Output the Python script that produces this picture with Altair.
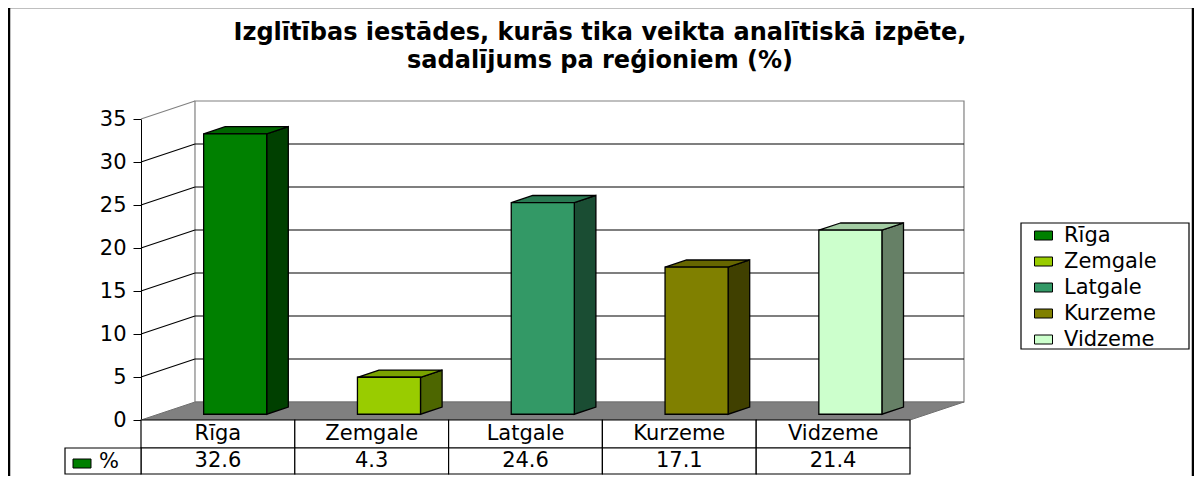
import altair as alt
import pandas as pd

# ---- data ----
regions = ["Rīga", "Zemgale", "Latgale", "Kurzeme", "Vidzeme"]
values = [32.6, 4.3, 24.6, 17.1, 21.4]
front_colors = ["#008000", "#99CC00", "#339966", "#808000", "#CCFFCC"]
side_colors = ["#004000", "#4D6600", "#1A4D33", "#404000", "#668066"]
top_colors = ["#006600", "#7AA300", "#297A52", "#666600", "#A3CCA3"]
ticks = [0, 5, 10, 15, 20, 25, 30, 35]
title_lines = ["Izglītības iestādes, kurās tika veikta analītiskā izpēte,",
               "sadalījums pa reģioniem (%)"]
series_label = "%"

FONT = "DejaVu Sans"
FS = 21
TFS = 24

# ---- 3D geometry (in data units) ----
DX, DY = 0.351, 2.093      # full depth offset
D0, D1 = 0.32, 0.72        # bar front / back depth
HW = 0.205                 # bar half width
YMAX = ticks[-1]
XMIN, XMAX = -0.5, len(regions) - 0.5

xscale = alt.Scale(domain=[XMIN, XMAX], nice=False, zero=False)
yscale = alt.Scale(domain=[0, YMAX], nice=False, zero=False)
yaxis = alt.Axis(values=ticks, title=None, grid=False, tickSize=8, labelPadding=7,
                 labelFont=FONT, labelFontSize=FS, labelColor="black",
                 domainColor="black", tickColor="black", domainWidth=1, tickWidth=1)


def X(f):
    return alt.X(f, type="quantitative", scale=xscale, axis=None)


def Y(f):
    return alt.Y(f, type="quantitative", scale=yscale, axis=yaxis)


bars = pd.DataFrame({"region": regions, "value": values, "i": range(len(regions)),
                     "front": front_colors})
bars["fx1"] = bars.i - HW + D0 * DX
bars["fx2"] = bars.i + HW + D0 * DX
bars["fy1"] = D0 * DY
bars["fy2"] = bars.value + D0 * DY
bars["cl"] = bars.i - 0.5
bars["cr"] = bars.i + 0.5

side_rows, top_rows = [], []
for k, (r, v) in enumerate(zip(regions, values)):
    for d in (D0, D1):
        side_rows.append({"region": r, "c": side_colors[k], "sx": k + HW + d * DX,
                          "st": v + d * DY, "sb": d * DY})
        top_rows.append({"region": r, "c": top_colors[k], "ty": v + d * DY,
                         "tl": k - HW + d * DX, "tr": k + HW + d * DX})
side = pd.DataFrame(side_rows)
top = pd.DataFrame(top_rows)

wall = pd.DataFrame({"x1": [XMIN + DX], "x2": [XMAX + DX], "y1": [DY], "y2": [YMAX + DY]})
floor = pd.DataFrame({"y": [0, DY], "xl": [XMIN, XMIN + DX], "xr": [XMAX, XMAX + DX]})
grid = pd.DataFrame({"v": ticks[1:-1]})
grid["yb"] = grid.v + DY
grid["x1"] = XMIN + DX
grid["x2"] = XMAX + DX
diag = pd.DataFrame({"v": ticks[1:]})
diag["yb"] = diag.v + DY
diag["x1"] = XMIN
diag["x2"] = XMIN + DX
diag["c"] = ["black"] * (len(ticks) - 2) + ["#808080"]
one = pd.DataFrame({"a": [0]})

wall_l = alt.Chart(wall).mark_rect(fill="white", stroke="#808080", strokeWidth=1.2).encode(
    x=X("x1"), x2="x2", y=Y("y1"), y2="y2")
grid_l = alt.Chart(grid).mark_rule(color="black", strokeWidth=1.1).encode(
    x=X("x1"), x2="x2", y=Y("yb"))
diag_l = alt.Chart(diag).mark_rule(strokeWidth=1.1).encode(
    x=X("x1"), x2="x2", y=Y("v"), y2="yb", color=alt.Color("c:N", scale=None))
floor_l = alt.Chart(floor).mark_area(orient="horizontal", fill="#808080", stroke="#707070",
                                     strokeWidth=1, opacity=1).encode(
    y=Y("y"), x=X("xl"), x2="xr")

side_l = alt.Chart(side).mark_area(orient="vertical", stroke="black", strokeWidth=1.3,
                                   opacity=1).encode(
    x=X("sx"), y=Y("st"), y2="sb", detail="region:N", fill=alt.Fill("c:N", scale=None))
top_l = alt.Chart(top).mark_area(orient="horizontal", stroke="black", strokeWidth=1.3,
                                 opacity=1).encode(
    y=Y("ty"), x=X("tl"), x2="tr", detail="region:N", fill=alt.Fill("c:N", scale=None))
front_l = alt.Chart(bars).mark_rect(stroke="black", strokeWidth=1.3, opacity=1).encode(
    x=X("fx1"), x2="fx2", y=Y("fy1"), y2="fy2",
    color=alt.Color("region:N", scale=alt.Scale(domain=regions, range=front_colors),
                    legend=alt.Legend(title=None, orient="none", legendX=892, legendY=106,
                                      symbolType="M-1,-0.5L1,-0.5L1,0.5L-1,0.5Z",
                                      symbolSize=324, symbolStrokeColor="black",
                                      symbolStrokeWidth=1, symbolOpacity=1,
                                      labelFont=FONT, labelFontSize=FS, labelColor="black",
                                      labelOffset=10, rowPadding=4, padding=0)))

# data table under the plot
row1 = alt.Chart(bars).mark_rect(fill="white", stroke="black", strokeWidth=1.2).encode(
    x=X("cl"), x2="cr", y=alt.value(301), y2=alt.value(329))
row2 = alt.Chart(bars).mark_rect(fill="white", stroke="black", strokeWidth=1.2).encode(
    x=X("cl"), x2="cr", y=alt.value(329), y2=alt.value(355))
key_cell = alt.Chart(one).mark_rect(fill="white", stroke="black", strokeWidth=1.2).encode(
    x=alt.value(-76), x2=alt.value(0), y=alt.value(329), y2=alt.value(355))
key_sw = alt.Chart(one).mark_rect(fill=front_colors[0], stroke="black", strokeWidth=1).encode(
    x=alt.value(-68), x2=alt.value(-50), y=alt.value(340), y2=alt.value(349))
key_txt = alt.Chart(pd.DataFrame({"t": [series_label]})).mark_text(
    font=FONT, fontSize=FS, align="left", baseline="middle", color="black").encode(
    text="t:N", x=alt.value(-42), y=alt.value(343))
names = alt.Chart(bars).mark_text(font=FONT, fontSize=FS, baseline="middle",
                                  color="black").encode(
    x=X("i"), y=alt.value(315), text="region:N")
vals = alt.Chart(bars).mark_text(font=FONT, fontSize=FS, baseline="middle",
                                 color="black").encode(
    x=X("i"), y=alt.value(342), text=alt.Text("value:Q", format=".1f"))

legend_box = alt.Chart(one).mark_rect(fill="white", stroke="black", strokeWidth=1.2).encode(
    x=alt.value(880), x2=alt.value(1048), y=alt.value(104), y2=alt.value(230))

t1 = alt.Chart(pd.DataFrame({"t": [title_lines[0]]})).mark_text(
    font=FONT, fontSize=TFS, fontWeight="bold", baseline="middle", color="black").encode(
    text="t:N", x=alt.value(459), y=alt.value(-86))
t2 = alt.Chart(pd.DataFrame({"t": [title_lines[1]]})).mark_text(
    font=FONT, fontSize=TFS, fontWeight="bold", baseline="middle", color="black").encode(
    text="t:N", x=alt.value(459), y=alt.value(-58))

frame = alt.Chart(one).mark_rect(fill="transparent", stroke="black", strokeWidth=2.5).encode(
    x=alt.value(-132), x2=alt.value(1052), y=alt.value(-112), y2=alt.value(420))

chart = alt.layer(
    wall_l, grid_l, diag_l, floor_l, row1, row2, key_cell, key_sw, key_txt, names, vals,
    side_l, top_l, front_l, legend_box, t1, t2, frame
).properties(
    width=769, height=301, autosize="none",
    padding={"left": 133, "top": 111, "right": 284, "bottom": 56},
).configure_view(strokeWidth=0)

chart.save("out.html", embed_options={"renderer": "svg", "actions": False})
